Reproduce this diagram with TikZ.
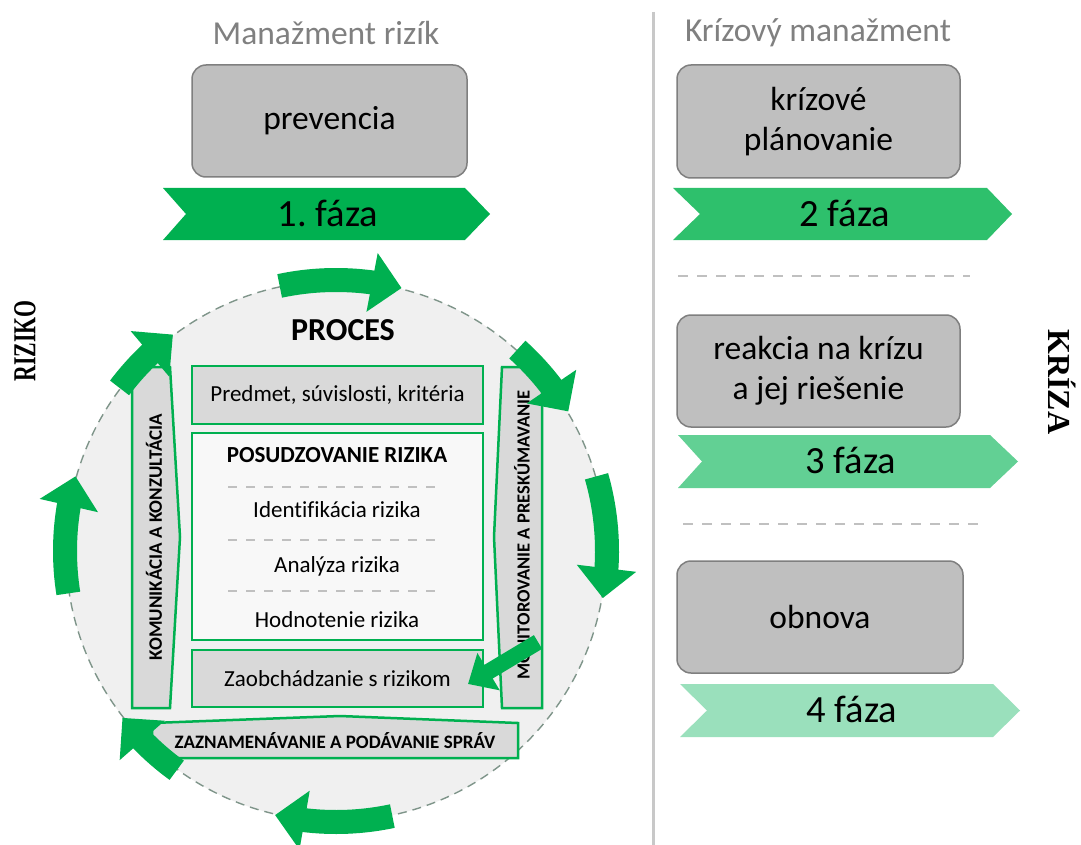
\documentclass[tikz,border=0pt]{standalone}
\usepackage{fontspec}
\setmainfont{Carlito}[Ligatures=NoCommon]
\newfontfamily\timesf{Liberation Serif}
\usetikzlibrary{arrows.meta,bending,calc}
\frenchspacing
\definecolor{gA}{HTML}{00B050}
\definecolor{gB}{HTML}{2EC06C}
\definecolor{gC}{HTML}{62D094}
\definecolor{gD}{HTML}{9AE0BC}
\definecolor{boxgray}{HTML}{BFBFBF}
\definecolor{boxedge}{HTML}{7F7F7F}
\definecolor{titlegray}{HTML}{808080}
\definecolor{lgray}{HTML}{D9D9D9}
\definecolor{circfill}{HTML}{F0F0F0}
\definecolor{posfill}{HTML}{F8F8F8}
\definecolor{dashgray}{HTML}{C0C0C0}
\definecolor{circedge}{HTML}{7F958A}
\definecolor{divider}{HTML}{C8C8C8}
\newcommand\fs[1]{\fontsize{#1}{#1}\selectfont}
\begin{document}
\begin{tikzpicture}[x=1pt,y=-1pt,
  phasebox/.style={draw=boxedge,line width=1.5pt,fill=boxgray,rounded corners=14pt,
     align=center,font=\fontsize{33.5}{40}\selectfont,inner sep=0pt},
  phasetxt/.style={font=\fs{38.5},inner sep=0pt},
  title/.style={font=\fs{33.5},text=titlegray,inner sep=0pt},
  innerbox/.style={draw=gA,line width=2.5pt,minimum width=291pt,inner sep=0pt},
  intxt/.style={font=\fs{23},inner sep=0pt},
  sidebox/.style={draw=gA,line width=2.5pt,fill=lgray},
  sidetxt/.style={font=\bfseries\fs{19},inner sep=0pt},
  sepline/.style={draw=dashgray,line width=2.5pt,dash pattern=on 10pt off 9pt},
  ringarr/.style={draw=gA,line width=24pt,-{Triangle[length=30pt,width=58pt]}},
  bigtxt/.style={font=\timesf\bfseries\fs{32},inner sep=0pt}
]
\useasboundingbox (0,0) rectangle (1081,845);
\fill[white] (0,0) rectangle (1081,845);

% divider
\coordinate (dv1) at (653,12);
\coordinate (dv2) at (653,845);
\draw[divider,line width=3pt] (dv1) -- (dv2);

% titles
\node[title] (t1) at (326,33) {Manažment rizík};
\node[title] (t2) at (818,33) {Krízový manažment};

% phase boxes
\node[phasebox,minimum width=275pt,minimum height=112pt] (prev) at (329.5,121) {prevencia};
\node[phasebox,minimum width=283pt,minimum height=113pt] (plan) at (818.5,121.5) {krízové\\plánovanie};
\node[phasebox,minimum width=283pt,minimum height=112pt] (reak) at (818.5,371) {reakcia na krízu\\a jej riešenie};
\node[phasebox,minimum width=286pt,minimum height=112pt] (obn) at (820,617) {obnova};

% chevrons
\fill[gA] (163,188) -- (465,188) -- (490,214) -- (465,240) -- (163,240) -- (186,214) -- cycle;
\fill[gB] (673,188) -- (987,188) -- (1012,214) -- (987,240) -- (673,240) -- (700,214) -- cycle;
\fill[gC] (678,435) -- (990,435) -- (1018,461.5) -- (990,488) -- (678,488) -- (702,461.5) -- cycle;
\fill[gD] (680,684) -- (993,684) -- (1020,710.5) -- (993,737) -- (680,737) -- (707,710.5) -- cycle;
\node[phasetxt] (f1) at (328,213) {1. fáza};
\node[phasetxt] (f2) at (845,213) {2 fáza};
\node[phasetxt] (f3) at (851,460) {3 fáza};
\node[phasetxt] (f4) at (852,709) {4 fáza};

% dashed separators on the right
\coordinate (s1a) at (678,276); \coordinate (s1b) at (970,276);
\coordinate (s2a) at (683,524); \coordinate (s2b) at (978,524);
\draw[sepline] (s1a) -- (s1b);
\draw[sepline] (s2a) -- (s2b);

% side labels
\node[bigtxt,rotate=90] (riz) at (25,341) {\scalebox{0.68}[1]{RIZIKO}};
\node[bigtxt,rotate=-90] (kri) at (1062,382) {KRÍZA};

% circle
\coordinate (C) at (336,551);
\draw[circedge,fill=circfill,line width=1.4pt,dash pattern=on 9pt off 6pt] (C) circle[radius=270pt];

% process title
\node[font=\bfseries\fs{32},inner sep=0pt] (proc) at (343,330) {PROCES};

% inner boxes
\node[innerbox,fill=lgray,minimum height=58pt] (pred) at (337.5,395) {};
\node[intxt] at (pred.center) {Predmet, súvislosti, kritéria};
\node[innerbox,fill=posfill,minimum height=207pt] (pos) at (337.5,536.5) {};
\node[innerbox,fill=lgray,minimum height=57pt] (zao) at (337.5,678.5) {};
\node[intxt] at (zao.center) {Zaobchádzanie s rizikom};

\node[intxt,font=\bfseries\fs{23}] (posT) at (337,455) {POSUDZOVANIE RIZIKA};
\node[intxt] (ident) at (337,510) {Identifikácia rizika};
\node[intxt] (anal) at (337,566) {Analýza rizika};
\node[intxt] (hodn) at (337,620) {Hodnotenie rizika};
\coordinate (d1a) at (228,487); \coordinate (d1b) at (442,487);
\coordinate (d2a) at (228,540); \coordinate (d2b) at (442,540);
\coordinate (d3a) at (228,591); \coordinate (d3b) at (442,591);
\draw[sepline,line width=2pt,dash pattern=on 9pt off 9pt] (d1a) -- (d1b);
\draw[sepline,line width=2pt,dash pattern=on 9pt off 9pt] (d2a) -- (d2b);
\draw[sepline,line width=2pt,dash pattern=on 9pt off 9pt] (d3a) -- (d3b);

% side boxes
\draw[sidebox] (132,367) -- (170,367) -- (180,537) -- (170,708) -- (132,708) -- cycle;
\draw[sidebox] (502,367) -- (542,367) -- (542,708) -- (502,708) -- (494,537) -- cycle;
\draw[sidebox] (152,723) -- (340,716) -- (518,723) -- (518,758) -- (152,758) -- cycle;
\node[sidetxt,rotate=90] (kom) at (154,537) {KOMUNIKÁCIA A KONZULTÁCIA};
\node[sidetxt,rotate=90,font=\bfseries\fs{18.5}] (mon) at (522,535) {MONITOROVANIE A PRESKÚMAVANIE};
\node[sidetxt] (zaz) at (335,741) {ZAZNAMENÁVANIE A PODÁVANIE SPRÁV};

% ring arrows
\draw[ringarr] (C) ++(102:271pt) arc[start angle=102,end angle=76,radius=271pt];
\draw[ringarr] (C) ++(48:271pt) arc[start angle=48,end angle=31,radius=271pt];
\draw[ringarr] (C) ++(16:271pt) arc[start angle=16,end angle=-10,radius=271pt];
\draw[ringarr] (C) ++(-78:271pt) arc[start angle=-78,end angle=-103,radius=271pt];
\draw[ringarr] (C) ++(-126:271pt) arc[start angle=-126,end angle=-142,radius=271pt];
\draw[ringarr] (C) ++(189:271pt) arc[start angle=189,end angle=164,radius=271pt];
\draw[ringarr] (C) ++(143:271pt) arc[start angle=143,end angle=127,radius=271pt];

% arrow from monitoring to treatment
\coordinate (a8s) at (538,642);
\coordinate (a8e) at (468,684);
\draw[draw=gA,line width=16pt,-{Triangle[length=24pt,width=42pt]}] (a8s) -- (a8e);
\end{tikzpicture}
\end{document}
